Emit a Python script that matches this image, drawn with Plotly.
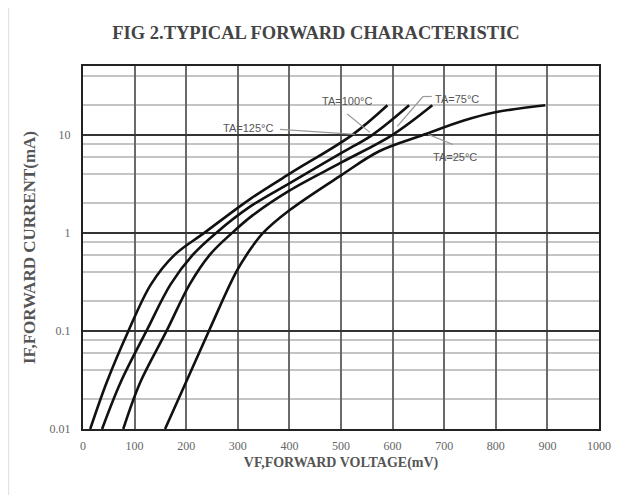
import math
import plotly.graph_objects as go

# ---- data ----
v_125 = [14, 46, 88, 132, 178, 235, 323, 400, 522, 590]
i_125 = [0.01, 0.03, 0.1, 0.3, 0.6, 1, 2.2, 4.0, 10, 20]

v_100 = [37, 73, 123, 170, 213, 258, 323, 400, 500, 561, 632]
i_100 = [0.01, 0.03, 0.1, 0.3, 0.6, 1, 1.84, 3.2, 6.5, 10, 20]

v_75 = [78, 111, 162, 207, 246, 289, 328, 400, 500, 600, 677]
i_75 = [0.01, 0.03, 0.1, 0.3, 0.6, 1, 1.5, 2.7, 5.2, 10, 20]

v_25 = [159, 244, 297, 326, 349, 400, 500, 574, 660, 738, 799, 896]
i_25 = [0.01, 0.1, 0.4, 0.7, 1, 1.7, 3.86, 6.8, 10, 14, 17, 20]

x_ticks = [0, 100, 200, 300, 400, 500, 600, 700, 800, 900, 1000]
y_ticks = [0.01, 0.1, 1, 10]
y_ticktext = ["0.01", "0.1", "1", "10"]
y_minor = [0.02, 0.04, 0.06, 0.08, 0.2, 0.4, 0.6, 0.8, 2, 4, 6, 8, 20, 40]

labels = ["TA=125°C", "TA=100°C", "TA=75°C", "TA=25°C"]
label_v = [320, 511, 725, 721]
label_i = [11.75, 22.1, 23.4, 5.93]
# leader lines (voltage, current) polylines
leader_125 = ([382, 527], [11.35, 10.1])
leader_100 = ([512, 556], [16.3, 10.6])
leader_75 = ([676, 659, 609], [24.6, 24.6, 12.2])
leader_25 = ([717, 669], [7.98, 10.1])

fig = go.Figure()
for vs, cs in [(v_125, i_125), (v_100, i_100), (v_75, i_75), (v_25, i_25)]:
    fig.add_trace(go.Scatter(x=vs, y=cs, mode="lines",
                             line=dict(color="#111", width=2.6, shape="spline", smoothing=1.0),
                             showlegend=False, hoverinfo="skip"))

shapes = []
for xs, ys in [leader_125, leader_100, leader_75, leader_25]:
    for k in range(len(xs) - 1):
        shapes.append(dict(type="line", xref="x", yref="y",
                           x0=xs[k], x1=xs[k + 1], y0=ys[k], y1=ys[k + 1],
                           line=dict(color="#999", width=1.2), layer="above"))
# left edge of the scanned frame
shapes.append(dict(type="line", xref="paper", yref="paper", x0=-0.144, x1=-0.144, y0=-0.3, y1=1.2,
                   line=dict(color="#ddd", width=1)))

annotations = []
for t, xv, yv in zip(labels, label_v, label_i):
    annotations.append(dict(text=t, x=xv, y=math.log10(yv), xref="x", yref="y", showarrow=False,
                            font=dict(family="Liberation Sans", size=11, color="#555")))

fig.update_layout(
    width=614, height=487,
    margin=dict(l=75, r=23, t=58, b=66),
    paper_bgcolor="white", plot_bgcolor="white",
    title=dict(text="<b>FIG 2.TYPICAL FORWARD CHARACTERISTIC</b>", x=(316 - 8) / 614, xref="container",
               xanchor="center", y=1 - 25 / 487, yanchor="middle",
               font=dict(family="Liberation Serif", size=18.5, color="#444")),
    xaxis=dict(range=[0, 1000], tickvals=x_ticks, showgrid=True, gridcolor="#6a6a6a", gridwidth=1.5,
               showline=True, mirror=True, linecolor="#222", linewidth=2, zeroline=False,
               ticks="", ticklabelstandoff=5,
               tickfont=dict(family="Liberation Serif", size=12, color="#666"),
               title=dict(text="<b>VF,FORWARD VOLTAGE(mV)</b>", standoff=5,
                          font=dict(family="Liberation Serif", size=14, color="#555"))),
    yaxis=dict(type="log", range=[-2, 1.702], tickvals=y_ticks, ticktext=y_ticktext,
               showgrid=True, gridcolor="#333", gridwidth=1.5,
               minor=dict(tickvals=y_minor, showgrid=True, gridcolor="#c4c4c4", gridwidth=1.8, ticks=""),
               showline=True, mirror=True, linecolor="#222", linewidth=2, zeroline=False,
               ticks="", ticklabelstandoff=8,
               tickfont=dict(family="Liberation Serif", size=12, color="#666"),
               title=dict(text="<b>IF,FORWARD CURRENT(mA)</b>", standoff=10,
                          font=dict(family="Liberation Serif", size=17, color="#555"))),
    shapes=shapes, annotations=annotations,
)

fig.write_html("out.html")
